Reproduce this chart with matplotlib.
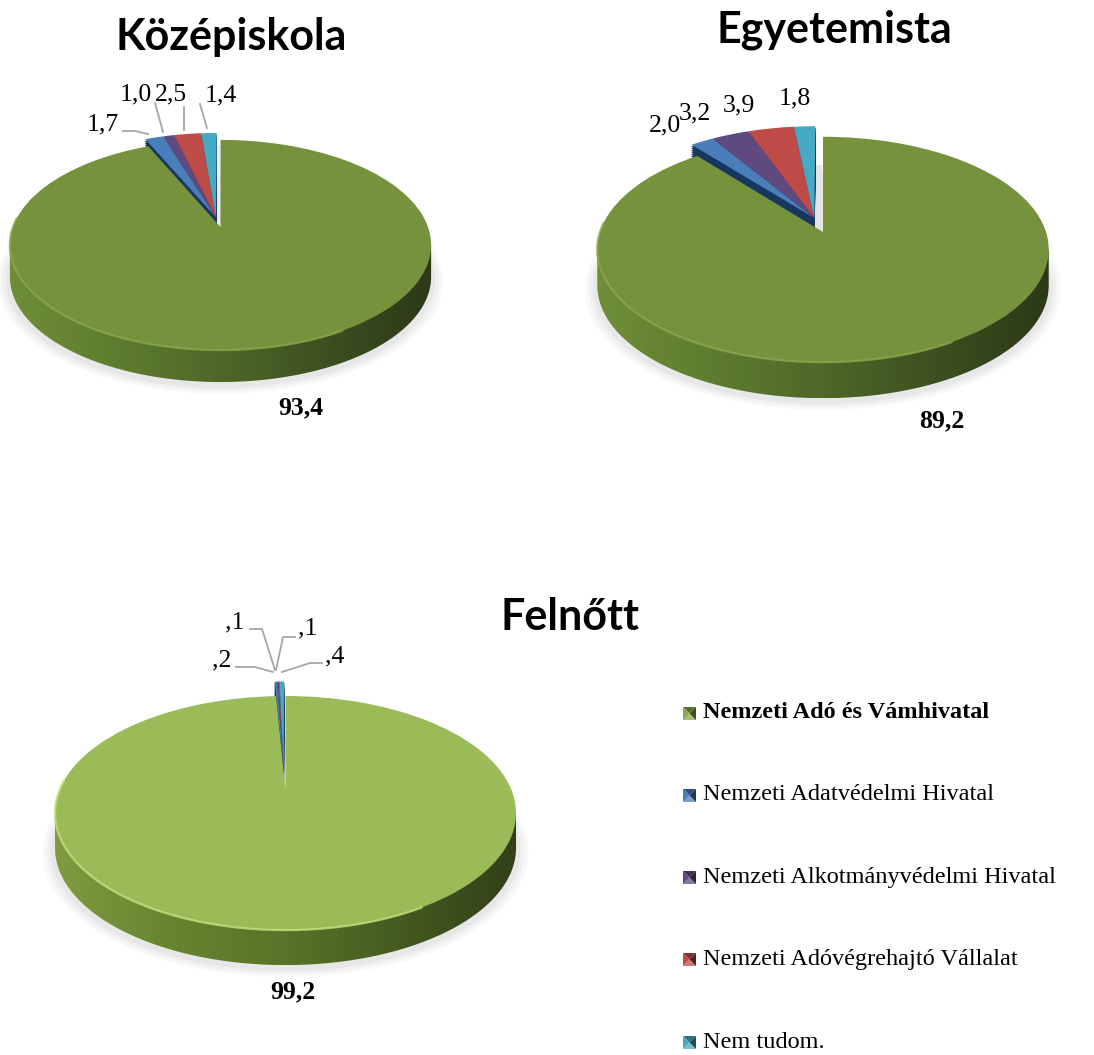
import numpy as np
import matplotlib
matplotlib.use("Agg")
import matplotlib.pyplot as plt
from matplotlib.patches import Wedge, Polygon, PathPatch
from matplotlib.path import Path
from matplotlib.transforms import Transform
from matplotlib.colors import LinearSegmentedColormap, to_rgb

# ---- data
categories = ["Nemzeti Adó és Vámhivatal", "Nemzeti Adatvédelmi Hivatal",
              "Nemzeti Alkotmányvédelmi Hivatal", "Nemzeti Adóvégrehajtó Vállalat",
              "Nem tudom."]
kozepiskola = [93.4, 1.7, 1.0, 2.5, 1.4]
egyetemista = [89.2, 2.0, 3.2, 3.9, 1.8]
felnott = [99.2, 0.2, 0.1, 0.1, 0.4]
labels_kozepiskola = ["93,4", "1,7", "1,0", "2,5", "1,4"]
labels_egyetemista = ["89,2", "2,0", "3,2", "3,9", "1,8"]
labels_felnott = ["99,2", ",2", ",1", ",1", ",4"]

# ---- style
W, H = 1094, 1055
SERIF = "Liberation Serif"
GROUP_COLORS = ["#4a7ebb", "#5f4a80", "#be4b48", "#46aac4"]
LEGEND_COLORS = ["#8aa84c", "#4a7ebb", "#5f4a80", "#be4b48", "#46aac4"]

fig = plt.figure(figsize=(W / 100, H / 100), dpi=100)
ax = fig.add_axes([0, 0, 1, 1])
ax.set_xlim(0, W)
ax.set_ylim(H, 0)
ax.axis("off")


class Persp(Transform):
    """Unit-disc coordinates to picture pixels, seen in perspective."""
    input_dims = output_dims = 2
    is_affine = False
    has_inverse = False

    def __init__(self, cx, cy, rx, s, k, dy=0.0):
        super().__init__()
        self.p = (cx, cy, rx, s, k, dy)

    def transform_non_affine(self, v):
        cx, cy, rx, s, k, dy = self.p
        v = np.asarray(v, float)
        w = 1 + k * v[:, 1]
        return np.column_stack([cx + rx * v[:, 0] / w, cy + dy - s * v[:, 1] / w])


def angles(values):
    v = np.asarray(values, float)
    ends = np.cumsum(v) / v.sum() * 360
    starts = ends - v * 360 / v.sum()
    return 90 - ends, 90 - starts


def pie3d(values, cx, cy, rx, s, k, depth, shift, top_color, side_stops, rim):
    t1, t2 = angles(values)
    # soft shadow under the disc
    t = np.linspace(0, 2 * np.pi, 361)
    unit = np.column_stack([np.cos(t), np.sin(t)])
    for grow, a in zip((12, 8, 4), (0.05, 0.06, 0.08)):
        pts = Persp(cx, cy, rx + grow, s + grow * 0.6, k, depth + 3).transform(unit)
        ax.add_patch(Polygon(pts, closed=True, fc="#808080", ec="none", alpha=a, zorder=1))
    # side wall with a horizontal gradient
    outline = Persp(cx, cy, rx, s, k, depth).transform(unit)
    outline0 = Persp(cx, cy, rx, s, k).transform(unit)
    il, ir = outline[:, 0].argmin(), outline[:, 0].argmax()
    order = np.arange(il, ir + 360 + 1) % 360
    order = order[:((ir - il) % 360) + 1]
    lower = outline[order]
    clip = np.vstack([outline0[il], lower, outline0[ir]])
    cmap = LinearSegmentedColormap.from_list("side", side_stops)
    x0, x1 = cx - rx * 1.03, cx + rx * 1.03
    y0, y1 = outline0[:, 1].min(), outline[:, 1].max()
    im = ax.imshow(np.linspace(0, 1, 256)[None, :], cmap=cmap, extent=(x0, x1, y1, y0),
                   aspect="auto", interpolation="bilinear", zorder=2)
    im.set_clip_path(PathPatch(Path(clip), transform=ax.transData))
    ax.set_xlim(0, W)
    ax.set_ylim(H, 0)
    # exploded small slices: dark cut face, then top faces
    off = shift
    for dy in np.arange(depth, 0, -2.0):
        w = Wedge(off, 1, t1[1:].min(), t2[1:].max(), fc="#17375e", ec="#17375e", lw=0.3, zorder=3)
        w.set_transform(Persp(cx, cy, rx, s, k, dy) + ax.transData)
        ax.add_patch(w)
    for a, b, c in zip(t1[1:], t2[1:], GROUP_COLORS):
        w = Wedge(off, 1, a, b, fc=c, ec="none", zorder=4)
        w.set_transform(Persp(cx, cy, rx, s, k) + ax.transData)
        ax.add_patch(w)
    # main slice
    w = Wedge((0, 0), 1, t1[0], t2[0], fc=top_color, ec="none", zorder=6)
    w.set_transform(Persp(cx, cy, rx, s, k) + ax.transData)
    ax.add_patch(w)
    # bright rim along the near edge
    th = np.radians(np.linspace(175, 300, 120))
    rim_pts = Persp(cx, cy, rx, s, k).transform(np.column_stack([np.cos(th), np.sin(th)]))
    ax.plot(rim_pts[:, 0], rim_pts[:, 1], color=rim, lw=1.6, alpha=0.8, zorder=7,
            solid_capstyle="round")


pie3d(kozepiskola, 220.5, 227, 207.5, 102, 0.171, 32, (-0.022, 0.095), "#76923c",
      ["#6f8e38", "#5f7d30", "#4d6828", "#3d4f20", "#2c3817"], "#8aa84c")
pie3d(egyetemista, 823, 232, 223, 110, 0.155, 36, (-0.04, 0.13), "#76923c",
      ["#6f8e38", "#5f7d30", "#4d6828", "#3d4f20", "#2c3817"], "#8aa84c")
pie3d(felnott, 285.5, 790, 226, 112.5, 0.197, 35, (-0.008, 0.19), "#9bbb59",
      ["#7f9c42", "#67852f", "#587428", "#445a20", "#313f17"], "#c6e07f")

# ---- light shade in the gaps beside the exploded slices
ax.add_patch(Polygon([(816, 165), (822, 165), (822, 236), (816, 232)], fc="#e4e4e4", ec="none", zorder=2.5))
ax.add_patch(Polygon([(217, 145), (220, 145), (220, 230), (217, 226)], fc="#ececec", ec="none", zorder=2.5))

# ---- leader lines
leaders = [
    [(123, 131), (135, 131), (148, 134)],
    [(155, 103), (163, 132)],
    [(184, 107), (184, 130)],
    [(200, 104), (207, 128)],
    [(250, 629), (262, 629), (275, 670)],
    [(276, 670), (283, 637), (295, 637)],
    [(236, 667), (255, 667), (273, 672)],
    [(282, 672), (310, 663), (322, 663)],
]
for line in leaders:
    xs, ys = zip(*line)
    ax.plot(xs, ys, color="#a6a6a6", lw=1.3, zorder=8)

# ---- value labels
label_xy = {
    0: [(301, 408), (103, 124), (136, 94), (171, 94), (221, 95)],
    1: [(942, 421), (665, 125), (695, 113), (739, 105), (795, 98)],
    2: [(293, 992), (222, 660), (235, 622), (308, 628), (335, 656)],
}
for key, labs in zip(label_xy, (labels_kozepiskola, labels_egyetemista, labels_felnott)):
    for i, (lab, (x, y)) in enumerate(zip(labs, label_xy[key])):
        ax.text(x, y, lab, family=SERIF, fontsize=18.5, ha="center", va="center",
                fontweight="bold" if i == 0 else "normal", color="black", zorder=9)

# ---- titles
for txt, x, y in (("Középiskola", 231, 37), ("Egyetemista", 834, 30), ("Felnőtt", 570, 617)):
    ax.text(x, y, txt, family="Lato", fontweight="bold", fontsize=31, ha="center",
            va="center", color="black", zorder=9)

# ---- legend
legend_y = [713, 795, 877, 959, 1042]


def shade(c, f):
    r = np.array(to_rgb(c))
    return tuple(r * f if f < 1 else r + (1 - r) * (f - 1))


for name, y, col, i in zip(categories, legend_y, LEGEND_COLORS, range(5)):
    x0, x1, y0, y1 = 683, 696, y - 6, y + 7
    xc, yc = (x0 + x1) / 2, (y0 + y1) / 2
    tris = [([(x0, y0), (x1, y0), (xc, yc)], 0.65),
            ([(x0, y1), (x1, y1), (xc, yc)], 1.25),
            ([(x0, y0), (x0, y1), (xc, yc)], 1.0),
            ([(x1, y0), (x1, y1), (xc, yc)], 0.45)]
    for pts, f in tris:
        ax.add_patch(Polygon(pts, closed=True, fc=shade(col, f), ec="none", zorder=9))
    ax.text(703, y, name, family=SERIF, fontsize=17.5, va="center", ha="left",
            fontweight="bold" if i == 0 else "normal", color="black", zorder=9)

fig.savefig("out.png", dpi=100)
